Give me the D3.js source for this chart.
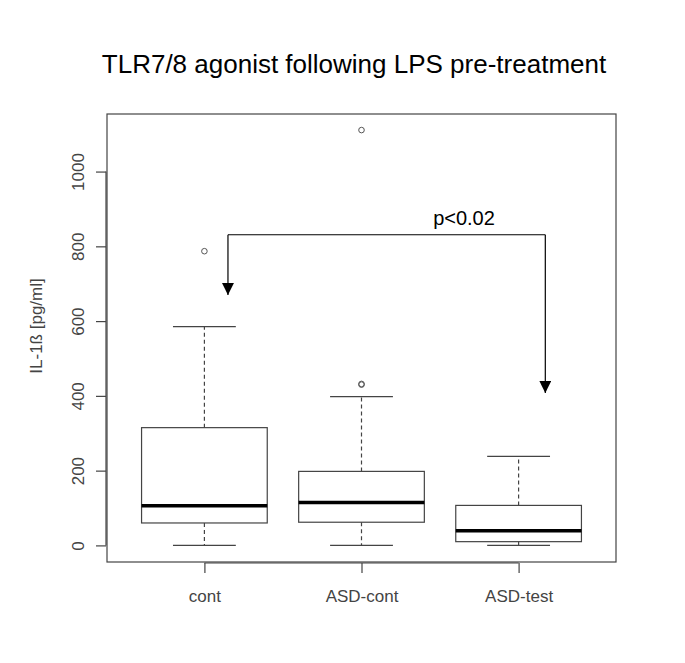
<!DOCTYPE html>
<html>
<head>
<meta charset="utf-8">
<script src="https://cdn.jsdelivr.net/npm/d3@7"></script>
<style>
  body { margin: 0; background: #fff; }
  svg { display: block; font-family: "Liberation Sans", Arial, sans-serif; }
  .axis path, .axis line { stroke: #444; stroke-width: 1.2; }
  .axis text { fill: #444; font-size: 17px; }
</style>
</head>
<body>
<svg width="685" height="663"></svg>
<script>
// данные
const categories = ["cont", "ASD-cont", "ASD-test"];
const whiskerLow = [0, 0, 0];
const q1 = [60, 62, 10];
const medians = [106, 115, 39];
const q3 = [315, 198, 107];
const whiskerHigh = [585, 398, 238];
const outliers = [[787], [430, 432, 1111], []];
const yTicks = [0, 200, 400, 600, 800, 1000];

// аннотация p<0.02
const bracketFrom = 1.15, bracketTo = 3.17;
const bracketY = 831;
const arrowEnds = [670, 408];
const pLabel = "p<0.02";

const svg = d3.select("svg");
const margin = {left: 107, right: 69, top: 114, bottom: 101};
const width = 685, height = 663;

const x = d3.scaleLinear().domain([0.38, 3.62]).range([margin.left, width - margin.right]);
const y = d3.scaleLinear().domain([-44.4, 1154]).range([height - margin.bottom, margin.top]);

const boxHalf = 0.4, capHalf = 0.2;

// заголовок
svg.append("text")
    .attr("x", 354).attr("y", 73)
    .attr("text-anchor", "middle")
    .style("font-size", "26px")
    .text("TLR7/8 agonist following LPS pre-treatment");

// рамка
svg.append("rect")
    .attr("x", margin.left).attr("y", margin.top)
    .attr("width", width - margin.left - margin.right)
    .attr("height", height - margin.top - margin.bottom)
    .attr("fill", "none").attr("stroke", "#444").attr("stroke-width", 1.2);

// оси
let axisY = svg.append("g")
    .attr("class", "axis")
    .attr("transform", `translate(${margin.left - 1},0)`)
    .call(d3.axisLeft(y).tickValues(yTicks).tickFormat(d3.format("d")).tickSize(10).tickPadding(6));
axisY.select(".domain").attr("d", `M-0,${y(0)}V${y(1000)}`);
axisY.selectAll(".tick text")
    .attr("transform", "rotate(-90)")
    .attr("text-anchor", "middle")
    .attr("x", 0).attr("y", -22).attr("dy", 0);

let axisX = svg.append("g")
    .attr("class", "axis")
    .attr("transform", `translate(0,${height - margin.bottom + 1})`)
    .call(d3.axisBottom(x).tickValues([1, 2, 3]).tickFormat((d, i) => categories[i]).tickSize(10).tickPadding(17));
axisX.select(".domain").attr("d", `M${x(1)},0H${x(3)}`);

svg.append("text")
    .attr("transform", `translate(42,326) rotate(-90)`)
    .attr("text-anchor", "middle")
    .style("font-size", "17px").attr("fill", "#444")
    .text("IL-1ß [pg/ml]");

// боксплоты
categories.forEach((c, i) => {
    let cx = i + 1;
    let g = svg.append("g");
    // усы
    g.append("line")
        .attr("x1", x(cx)).attr("x2", x(cx))
        .attr("y1", y(q3[i])).attr("y2", y(whiskerHigh[i]))
        .attr("stroke", "#444").attr("stroke-width", 1.2).attr("stroke-dasharray", "4,3");
    g.append("line")
        .attr("x1", x(cx)).attr("x2", x(cx))
        .attr("y1", y(q1[i])).attr("y2", y(whiskerLow[i]))
        .attr("stroke", "#444").attr("stroke-width", 1.2).attr("stroke-dasharray", "4,3");
    [whiskerLow[i], whiskerHigh[i]].forEach(v => {
        g.append("line")
            .attr("x1", x(cx - capHalf)).attr("x2", x(cx + capHalf))
            .attr("y1", y(v)).attr("y2", y(v))
            .attr("stroke", "#444").attr("stroke-width", 1.2);
    });
    // коробка
    g.append("rect")
        .attr("x", x(cx - boxHalf)).attr("width", x(cx + boxHalf) - x(cx - boxHalf))
        .attr("y", y(q3[i])).attr("height", y(q1[i]) - y(q3[i]))
        .attr("fill", "none").attr("stroke", "#444").attr("stroke-width", 1.2);
    // медиана
    g.append("line")
        .attr("x1", x(cx - boxHalf)).attr("x2", x(cx + boxHalf))
        .attr("y1", y(medians[i])).attr("y2", y(medians[i]))
        .attr("stroke", "#000").attr("stroke-width", 3.5);
    // выбросы
    g.selectAll("circle")
        .data(outliers[i])
        .enter()
        .append("circle")
        .attr("cx", x(cx)).attr("cy", d => y(d))
        .attr("r", 2.8)
        .attr("fill", "none").attr("stroke", "#555").attr("stroke-width", 1);
});

// стрелки
svg.append("defs").append("marker")
    .attr("id", "head")
    .attr("viewBox", "0 0 10 10")
    .attr("refX", 10).attr("refY", 5)
    .attr("markerWidth", 12).attr("markerHeight", 12)
    .attr("markerUnits", "userSpaceOnUse")
    .attr("orient", "auto")
    .append("path").attr("d", "M0,0L10,5L0,10Z").attr("fill", "#000");

svg.append("path")
    .attr("d", `M${x(bracketFrom)},${y(bracketY)}H${x(bracketTo)}`)
    .attr("stroke", "#000").attr("stroke-width", 1.2).attr("fill", "none");
[bracketFrom, bracketTo].forEach((bx, i) => {
    svg.append("line")
        .attr("x1", x(bx)).attr("x2", x(bx))
        .attr("y1", y(bracketY)).attr("y2", y(arrowEnds[i]))
        .attr("stroke", "#000").attr("stroke-width", 1.2)
        .attr("marker-end", "url(#head)");
});

svg.append("text")
    .attr("x", 464).attr("y", 225)
    .attr("text-anchor", "middle")
    .style("font-size", "20px")
    .text(pLabel);
</script>
</body>
</html>
